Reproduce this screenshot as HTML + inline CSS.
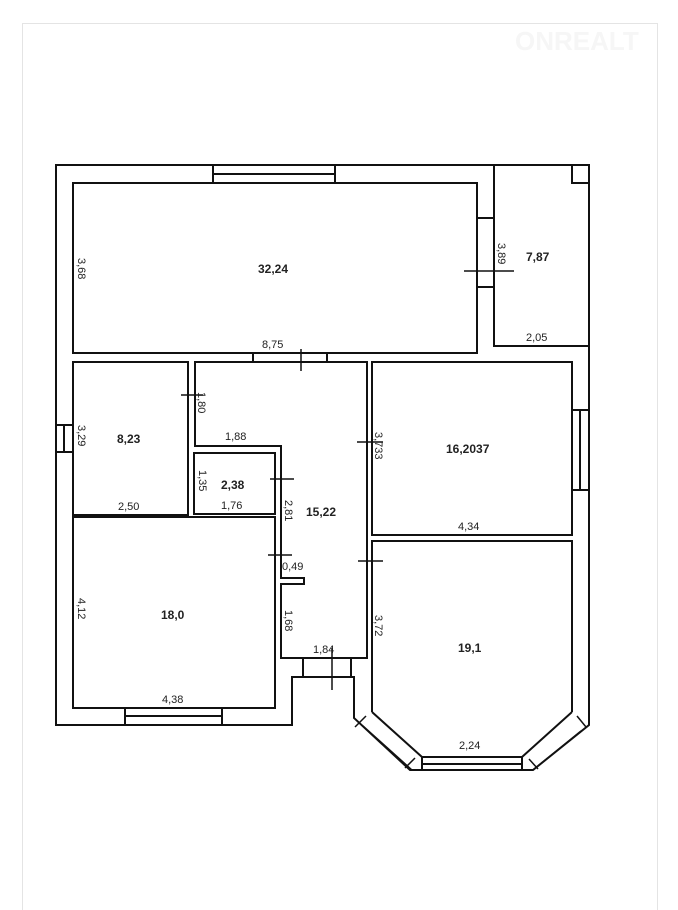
<!DOCTYPE html>
<html><head><meta charset="utf-8"><style>
html,body{margin:0;padding:0;background:#fff;}
svg{display:block;}
text{font-family:"Liberation Sans",sans-serif;font-size:11px;fill:#222;}
.b{font-weight:bold;font-size:12px;}
</style></head><body>
<svg width="678" height="910" viewBox="0 0 678 910" xmlns="http://www.w3.org/2000/svg">
<rect x="22.5" y="23.5" width="635" height="890" fill="none" stroke="#e4e4e4" stroke-width="1"/>
<text x="515" y="50" style="font-size:26px;font-weight:bold;fill:#f6f6f6">ONREALT</text>
<g fill="none" stroke="#111" stroke-width="2">
<path d="M56,165 H589 V725 L533,770 H410 L354,718 V677 H292 V725 H56 Z"/>
<path d="M572,712 L522,757 H422 L372,712"/>
<rect x="73" y="183" width="404" height="170"/>
<path d="M213,165 V183 M335,165 V183 M213,174 H335"/>
<path d="M494,165 V346 H589 M572,165 V183 H589"/>
<path d="M477,218 H494 M477,287 H494"/>
<rect x="73" y="362" width="115" height="153"/>
<path d="M195,362 H367 V658 H281 V584 H304 V578 H281 V446 H195 Z"/>
<path d="M253,353 V362 M327,353 V362"/>
<rect x="194" y="453" width="81" height="61"/>
<rect x="73" y="517" width="202" height="191"/>
<path d="M125,708 V725 M222,708 V725 M125,716 H222"/>
<path d="M56,425 H73 M56,452 H73 M64,425 V452"/>
<rect x="372" y="362" width="200" height="173"/>
<path d="M572,410 H589 M572,490 H589 M580,410 V490"/>
<path d="M372,712 V541 H572 V712"/>
<path d="M303,658 V677 M351,658 V677"/>
<path d="M422,757 V770 M522,757 V770 M422,764 H522"/>
<path d="M363,726 L412,770 M581,731 L533,770" stroke-width="1.5"/>
<path d="M366,716 L355,727 M415,758 L405,768 M529,759 L538,769 M577,716 L586,727" stroke-width="1.5"/>
</g>
<g stroke="#111" stroke-width="1.5">
<path d="M464,271 H514"/>
<path d="M301,349 V371"/>
<path d="M181,395 H203"/>
<path d="M357,442 H383"/>
<path d="M270,479 H294"/>
<path d="M268,555 H292"/>
<path d="M358,561 H383"/>
<path d="M332,648 V690"/>
</g>
<text class="b" x="258" y="273">32,24</text>
<text class="b" x="526" y="261">7,87</text>
<text x="526" y="341">2,05</text>
<text x="262" y="348">8,75</text>
<text class="b" x="117" y="443">8,23</text>
<text x="118" y="510">2,50</text>
<text x="225" y="440">1,88</text>
<text class="b" x="221" y="489">2,38</text>
<text x="221" y="509">1,76</text>
<text class="b" x="306" y="516">15,22</text>
<text class="b" x="446" y="453">16,2037</text>
<text x="458" y="530">4,34</text>
<text class="b" x="161" y="619">18,0</text>
<text x="162" y="703">4,38</text>
<text class="b" x="458" y="652">19,1</text>
<text x="459" y="749">2,24</text>
<text x="282" y="570">0,49</text>
<text x="313" y="653">1,84</text>
<g>
<text transform="translate(78,258) rotate(90)">3,68</text>
<text transform="translate(498,243) rotate(90)">3,89</text>
<text transform="translate(198,392) rotate(90)">1,80</text>
<text transform="translate(78,425) rotate(90)">3,29</text>
<text transform="translate(375,432) rotate(90)">3,733</text>
<text transform="translate(199,470) rotate(90)">1,35</text>
<text transform="translate(285,500) rotate(90)">2,81</text>
<text transform="translate(78,598) rotate(90)">4,12</text>
<text transform="translate(285,610) rotate(90)">1,68</text>
<text transform="translate(375,615) rotate(90)">3,72</text>
</g>
</svg>
</body></html>
